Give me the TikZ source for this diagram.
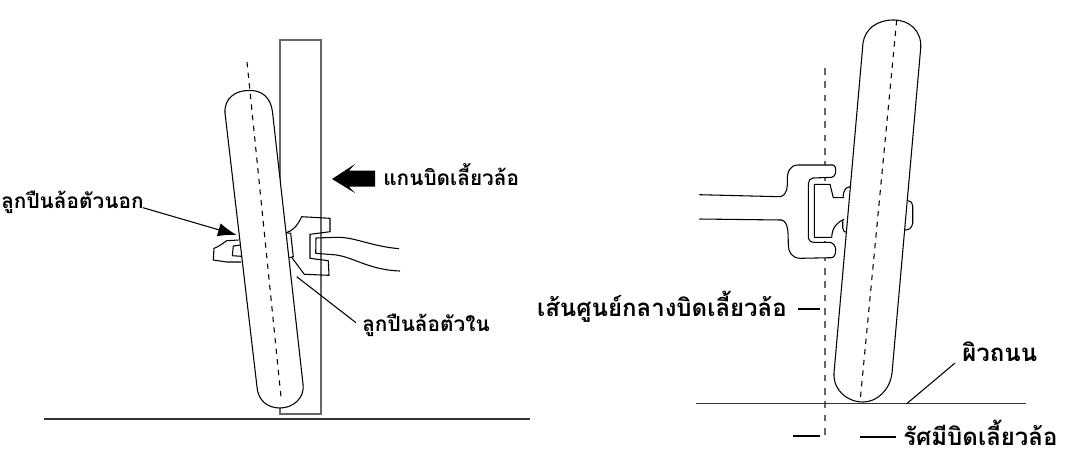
\documentclass[tikz,border=0pt]{standalone}
\usepackage{fontspec}
\newfontfamily\thaifont[Script=Thai]{Loma}
\usetikzlibrary{arrows.meta}

\begin{document}
\begin{tikzpicture}[x=0.75pt,y=-0.75pt]
	\tikzset{
		thlabel/.style = {font={\thaifont\bfseries\fontsize{15.6pt}{18pt}\selectfont}, anchor=base west, inner sep=0pt},
		biglabel/.style = {font={\thaifont\bfseries\fontsize{18pt}{20pt}\selectfont}, anchor=base west, inner sep=0pt},
		part/.style = {draw, line width=0.8pt, fill=white, line join=round},
		hubline/.style = {line width=0.8pt, line join=round},
		centreline/.style = {dash pattern=on 4pt off 4pt, line width=0.8pt},
		leader/.style = {line width=0.8pt},
		bbarrow/.style = {-{Latex[length=14pt,width=10pt]}, line width=0.8pt},
	}
	\useasboundingbox (0,0) rectangle (1069,469);

	% left view
	\draw[line width=0.8pt, draw=black!60] (280,40) rectangle (321,414);
	\coordinate (lground1) at (44,419);
	\coordinate (lground2) at (530,419);
	\draw[line width=0.8pt, draw=black!80] (lground1) -- (lground2);

	\draw[part] (225,113) .. controls (224,98) and (236,90) .. (249.5,90.5) .. controls (262,90) and (271,98) .. (272.5,112)
		-- (303,384) .. controls (305,398) and (293,408) .. (280,408) .. controls (267,408) and (258,400) .. (257,387) -- cycle;
	\draw[centreline] (247,62) -- (281,397);

	% outer hub
	\draw[hubline] (238.7,240) -- (226.7,240.7) .. controls (222,244) and (218,247) .. (214,248.3) -- (213.3,260) -- (226.7,262) -- (241,262);
	\draw[hubline] (240.7,245) -- (233.3,246) -- (232.3,255.7) -- (241.3,256.3);

	% inner hub
	\draw[hubline] (286,232.7) -- (290.7,233.3) -- (293.3,256.7) -- (289.3,257.7);
	\draw[hubline] (286,232.7) .. controls (293,231) and (297,226) .. (301.7,216.7) -- (330,218.3) -- (330,231.7) -- (310,234.3) -- (310,258.3) -- (328.3,260.7) -- (329,275.3) -- (304.3,274.3) -- (291.7,257.3);
	\draw[hubline] (399,248.7) .. controls (370,246) and (355,237) .. (336.7,237.3) -- (316,238) -- (315.7,253.3) -- (336.7,255) .. controls (355,258) and (370,270) .. (400,271);

	% left labels
	\node[thlabel] (outer) at (1,208) {ลูกปืนล้อตัวนอก};
	\coordinate (outerend) at (143,207.7);
	\coordinate (outertip) at (236.7,235);
	\draw[bbarrow] (outerend) -- (outertip);
	\node[thlabel] (inner) at (362,331) {ลูกปืนล้อตัวใน};
	\coordinate (innertip) at (296.7,276.7);
	\coordinate (innerend) at (356,322.7);
	\draw[leader] (innertip) -- (innerend);
	\fill (332,179) -- (355,164) -- (349,170.7) -- (375,170.7) -- (375,186.7) -- (349,186.7) -- (355,193) -- cycle;
	\node[thlabel] (axis) at (383,185) {แกนบิดเลี้ยวล้อ};

	% right view
	\draw[dash pattern=on 5pt off 5pt, line width=0.9pt, draw=black!60] (825,68) -- (825,437);
	\coordinate (rground1) at (696,403.7);
	\coordinate (rground2) at (1026,403.7);
	\draw[line width=0.8pt, draw=black!80] (rground1) -- (rground2);

	\draw[part] (863,43) .. controls (865,29) and (877,20) .. (893,20) .. controls (909,19.5) and (922,31) .. (920.7,48)
		-- (892,373) .. controls (890,390) and (877,402) .. (863,402) .. controls (847,402) and (833,390) .. (834,373) -- cycle;
	\draw[centreline] (896.7,20) -- (860,402);

	% wheel side bearings
	\draw[hubline] (850,186.7) .. controls (845,187) and (843,192) .. (843,198) -- (842.7,228) .. controls (843,231) and (845,233) .. (846.7,232.3);
	\draw[hubline] (908.3,200.7) .. controls (911,201) and (912.7,203) .. (912.7,206) -- (912.7,223) .. controls (912,228) and (909,230) .. (905,230);

	% hub
	\draw[part] (699.3,194.7) -- (780,196.7) .. controls (788,195) and (787.3,186) .. (787.3,180) .. controls (787,172) and (790,165) .. (798,165) -- (833,165) .. controls (836,166) and (836,170) .. (835.7,172) .. controls (835,176) and (833,177) .. (831.7,177.3) -- (813,178) .. controls (810,178) and (808.3,181) .. (808.3,184) -- (808.3,238) .. controls (808.3,241) and (811,242.3) .. (815,242.3) -- (830,242.3) .. controls (834,243) and (835.7,247) .. (835.7,250) .. controls (835.7,255) and (834,257.7) .. (831,257.7) -- (800,258.3) .. controls (792,258) and (788.3,252) .. (788.3,245) .. controls (788,235) and (789,222) .. (781.7,220) -- (699.3,219);
	\fill[white] (844,197.7) -- (833.3,197.7) -- (830,184.3) -- (814.3,184.3) -- (814.3,237.3) -- (831.7,237.3) .. controls (832,228) and (837,222) .. (844,219.3) -- cycle;
	\draw[hubline] (844,197.7) -- (833.3,197.7) -- (830,184.3) -- (814.3,184.3) -- (814.3,237.3) -- (831.7,237.3) .. controls (832,228) and (837,222) .. (844,219.3);

	% right labels
	\node[biglabel, anchor=base east] (steer) at (787,316.7) {เส้นศูนย์กลางบิดเลี้ยวล้อ};
	\coordinate (steerend) at (820,309);
	\draw[leader] (798,309) -- (steerend);
	\node[biglabel] (road) at (962,361.7) {ผิวถนน};
	\coordinate (roadend) at (906.7,403.7);
	\draw[leader] (roadend) -- (955,363);
	\node[biglabel] (radius) at (903,445) {รัศมีบิดเลี้ยวล้อ};
	\coordinate (radius1) at (793,436);
	\coordinate (radius2) at (860,437);
	\draw[leader] (radius1) -- (820,436);
	\draw[leader] (radius2) -- (896,437);
\end{tikzpicture}
\end{document}
